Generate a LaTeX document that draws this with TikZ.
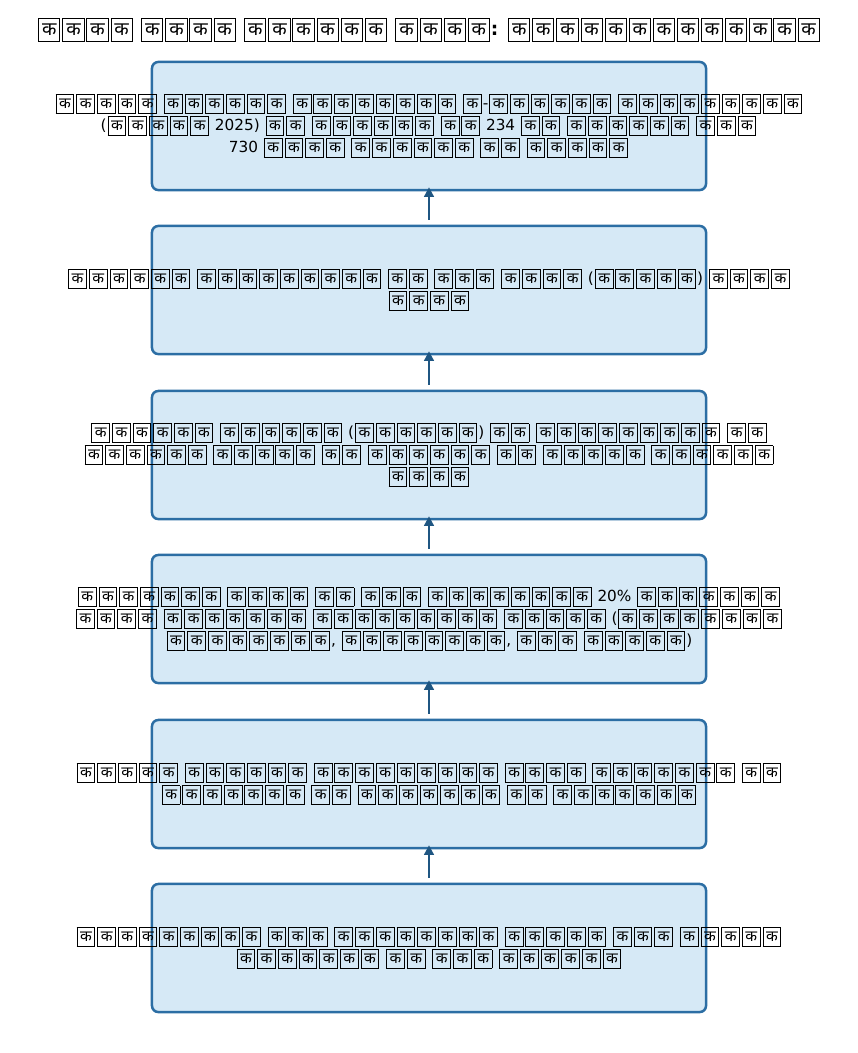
\documentclass[tikz,border=0pt]{standalone}
\usepackage{fontspec}
\setmainfont{DejaVu Sans}
\newfontfamily\devfont[Script=Devanagari]{Noto Sans}
\usetikzlibrary{arrows.meta}
\definecolor{stagefill}{HTML}{D6E9F6}
\definecolor{stageline}{HTML}{2C6EA4}
\definecolor{flowline}{HTML}{1F5682}
\newcommand{\tofu}{\kern0.7pt\relax\begingroup\fboxsep=0.6pt\relax\fboxrule=0.7pt\relax%
  \fbox{\makebox[0.99em][c]{\rule[-0.26em]{0pt}{1.06em}\devfont\symbol{"0915}}}\endgroup\kern0.7pt\relax}
\begingroup\lccode`\~=`\क\lowercase{\endgroup\def~}{\tofu}
\catcode`\क=\active

\begin{document}
\begin{tikzpicture}[x=0.72pt, y=-0.72pt,
    stage/.style={draw=stageline, fill=stagefill, line width=1.8pt, rounded corners=4.5pt,
      minimum width=398.9pt, minimum height=92.2pt},
    stagetext/.style={align=center, font=\fontsize{11}{15.8}\selectfont},
    flow/.style={-{Triangle[length=7pt,width=7pt]}, draw=flowline, line width=1.8pt,
      shorten <=3.6pt, shorten >=-2.9pt}]

    \useasboundingbox (0,0) rectangle (858,1053);

    \node (t) at (429,30) {\fontsize{13.5}{16}\selectfont\bfseries कककक कककक कककककक कककक: ककककककककककककक};

    \node [stage, label={[stagetext]center:{ककककक कककककक कककककककक क-कककककक ककककककककक\\(ककककक 2025) कक कककककक कक 234 कक कककककक ककक\\730 कककक कककककक कक ककककक}}] (a) at (429,126) {};
    \node [stage, label={[stagetext]center:{कककककक ककककककककक कक ककक कककक (ककककक) कककक\\कककक}}] (b) at (429,290) {};
    \node [stage, label={[stagetext]center:{कककककक कककककक (कककककक) कक ककककककककक कक\\कककककक ककककक कक कककककक कक ककककक कककककक\\कककक}}] (c) at (429,455) {};
    \node [stage, label={[stagetext]center:{ककककककक कककक कक ककक कककककककक 20\% ककककककक\\कककक ककककककक ककककककककक ककककक (कककककककक\\कककककककक, कककककककक, ककक ककककक)}}] (d) at (429,619) {};
    \node [stage, label={[stagetext]center:{ककककक कककककक ककककककककक कककक ककककककक कक\\ककककककक कक ककककककक कक ककककककक}}] (e) at (429,784) {};
    \node [stage, label={[stagetext]center:{ककककककककक ककक कककककककक ककककक ककक ककककक\\ककककककक कक ककक कककककक}}] (f) at (429,948) {};

    \draw [flow] (f) to (e);
    \draw [flow] (e) to (d);
    \draw [flow] (d) to (c);
    \draw [flow] (c) to (b);
    \draw [flow] (b) to (a);

\end{tikzpicture}
\end{document}
